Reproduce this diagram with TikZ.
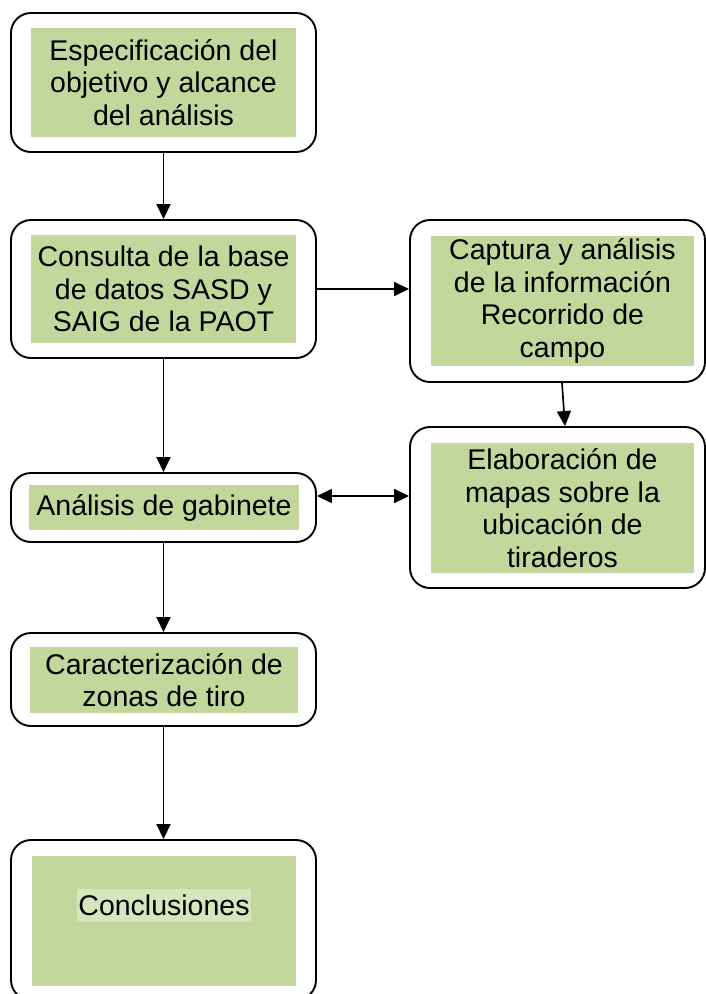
\documentclass[tikz,border=0pt]{standalone}
\usepackage{fontspec}
\setmainfont{Liberation Sans}
\usetikzlibrary{arrows.meta}
\definecolor{verdeolivo}{HTML}{C3D69B}
\definecolor{verdeclaro}{HTML}{D7E4BD}
\tikzset{caja/.style = {draw, line width=1.9pt, rounded corners=20pt, inner sep=0pt},
    verde/.style = {fill=verdeolivo, inner sep=0pt, align=center,
        font=\fontsize{28.5}{32.5}\selectfont},
    flecha/.style = {line width=1.7pt, -{Triangle[length=15pt, width=14pt]}},
    doble/.style = {line width=1.7pt, {Triangle[length=15pt, width=14pt]}-{Triangle[length=15pt, width=14pt]}}}

\begin{document}
\begin{tikzpicture}[x=1pt, y=-1pt]
        \useasboundingbox (0,0) rectangle (706,994);

        % cajas exteriores
        \node[caja, minimum width=305pt, minimum height=139pt] (espec) at (163.5,82.5) {};
        \node[caja, minimum width=305pt, minimum height=138pt] (consulta) at (163.5,289) {};
        \node[caja, minimum width=295pt, minimum height=162pt] (captura) at (557.5,301) {};
        \node[caja, minimum width=295pt, minimum height=161pt] (elab) at (557.5,507.5) {};
        \node[caja, minimum width=305pt, minimum height=69pt] (gabinete) at (163.5,507.5) {};
        \node[caja, minimum width=305pt, minimum height=93pt] (caract) at (163.5,679.5) {};
        \node[caja, minimum width=305pt, minimum height=160pt] (concl) at (163.5,920) {};

        % rellenos verdes con texto
        \node[verde, minimum width=265pt, minimum height=109pt] (tespec) at (163.5,82.5)
            {Especificación del\\objetivo y alcance\\del análisis};
        \node[verde, minimum width=265pt, minimum height=108pt] (tconsulta) at (163.5,289)
            {Consulta de la base\\de datos SASD y\\SAIG de la PAOT};
        \node[verde, minimum width=263pt, minimum height=130pt] (tcaptura) at (562.5,301)
            {Captura y análisis\\de la información\\Recorrido de\\campo};
        \node[verde, minimum width=263pt, minimum height=130pt] (telab) at (562.5,508)
            {Elaboración de\\mapas sobre la\\ubicación de\\tiraderos};
        \node[verde, minimum width=270pt, minimum height=45pt] (tgabinete) at (164,507.5)
            {Análisis de gabinete};
        \node[verde, minimum width=268pt, minimum height=66pt] (tcaract) at (164,680)
            {Caracterización de\\zonas de tiro};
        \node[verde, minimum width=264pt, minimum height=130pt] (tconcl) at (164,921) {};
        \node[verde, fill=verdeclaro, inner xsep=1pt, minimum height=33pt] (tconcl2) at (164,905.5)
            {Conclusiones};

        % flechas
        \draw[flecha] (espec) -- (consulta);
        \draw[flecha] (consulta) -- (gabinete);
        \draw[flecha] (gabinete) -- (caract);
        \draw[flecha] (caract) -- (concl);
        \draw[flecha] (consulta.east) -- (consulta.east -| captura.west);
        \draw[flecha] ([xshift=4.5pt]captura.south) -- ([xshift=7.5pt]elab.north);
        \draw[doble] ([yshift=11.5pt]gabinete.east) -- ([yshift=11.5pt]gabinete.east -| elab.west);
    \end{tikzpicture}
\end{document}
